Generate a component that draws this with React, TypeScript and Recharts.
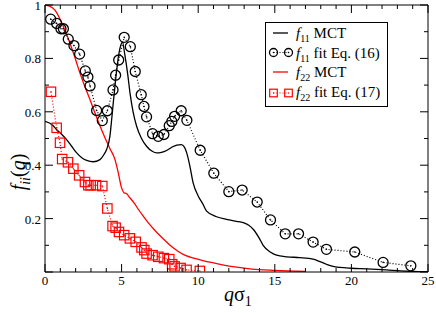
import React from 'react';
import { LineChart, Line, XAxis, YAxis, Legend } from 'recharts';

// f11 from MCT (solid black)
const f11MctQ = [0, 0.5, 0.76, 1.1, 1.41, 1.75, 2.07, 2.4, 2.72, 3.15, 3.59, 3.85, 4.02, 4.24, 4.35, 4.45, 4.6, 4.8, 4.95, 5.05, 5.22, 5.4, 5.55, 5.75, 5.98, 6.3, 6.63, 7.0, 7.29, 7.6, 7.94, 8.3, 8.6, 8.9, 9.1, 9.24, 9.46, 9.67, 10.0, 10.3, 10.55, 11.2, 11.85, 12.5, 12.94, 13.3, 13.59, 14.0, 14.24, 14.7, 15.11, 15.8, 16.63, 17.5, 17.9, 18.37, 18.8, 19.24, 20.0, 21.0, 22.28, 23.2, 24.0, 25.0];
const f11MctF = [0.564, 0.55, 0.533, 0.515, 0.496, 0.47, 0.446, 0.428, 0.418, 0.413, 0.421, 0.44, 0.459, 0.51, 0.57, 0.63, 0.715, 0.81, 0.85, 0.862, 0.81, 0.74, 0.67, 0.6, 0.546, 0.5, 0.471, 0.452, 0.446, 0.448, 0.455, 0.468, 0.475, 0.477, 0.468, 0.448, 0.396, 0.334, 0.285, 0.255, 0.228, 0.207, 0.197, 0.19, 0.185, 0.175, 0.16, 0.125, 0.1, 0.075, 0.063, 0.057, 0.054, 0.048, 0.04, 0.029, 0.021, 0.017, 0.014, 0.012, 0.008, 0.004, 0.002, 0.001];

// f11 fit, Eq. (16) (circles)
const f11FitQ = [0.37, 0.76, 1.04, 1.2, 1.52, 1.89, 2.26, 2.63, 2.8, 2.94, 3.37, 3.74, 4.07, 4.44, 4.61, 4.81, 5.17, 5.57, 5.89, 6.28, 6.46, 6.63, 7.02, 7.39, 7.76, 8.11, 8.28, 8.46, 8.89, 9.26, 10.13, 11.02, 12.0, 12.87, 13.85, 14.72, 15.68, 16.55, 17.5, 18.37, 20.22, 22.07, 23.88];
const f11FitF = [0.947, 0.931, 0.911, 0.911, 0.872, 0.848, 0.816, 0.753, 0.73, 0.697, 0.605, 0.567, 0.604, 0.682, 0.737, 0.794, 0.879, 0.844, 0.751, 0.664, 0.62, 0.581, 0.518, 0.508, 0.515, 0.548, 0.564, 0.583, 0.604, 0.568, 0.456, 0.37, 0.301, 0.307, 0.262, 0.195, 0.143, 0.143, 0.112, 0.085, 0.075, 0.036, 0.023];

// f22 from MCT (solid red)
const f22MctQ = [0, 0.3, 0.65, 1.0, 1.3, 1.63, 2.0, 2.3, 2.6, 2.94, 3.3, 3.6, 3.9, 4.24, 4.57, 4.78, 5.0, 5.15, 5.33, 5.54, 5.8, 6.09, 6.4, 6.8, 7.3, 7.8, 8.2, 8.7, 9.2, 9.7, 10.3, 11.0, 11.5, 12.5, 13.5, 15.0, 17.0];
const f22MctF = [1.0, 0.996, 0.981, 0.945, 0.905, 0.857, 0.795, 0.742, 0.695, 0.645, 0.59, 0.546, 0.505, 0.462, 0.421, 0.372, 0.315, 0.297, 0.293, 0.278, 0.26, 0.235, 0.21, 0.18, 0.148, 0.12, 0.098, 0.077, 0.061, 0.052, 0.043, 0.034, 0.028, 0.018, 0.011, 0.006, 0.002];

// f22 fit, Eq. (17) (squares)
const f22FitQ = [0.39, 0.76, 0.98, 1.12, 1.5, 1.85, 2.23, 2.61, 2.83, 2.98, 3.33, 3.74, 4.07, 4.41, 4.61, 4.83, 5.17, 5.54, 5.92, 6.3, 6.48, 6.63, 7.02, 7.39, 7.76, 8.11, 8.3, 8.46, 8.85, 9.24, 10.11];
const f22FitF = [0.675, 0.54, 0.484, 0.423, 0.411, 0.387, 0.362, 0.337, 0.325, 0.325, 0.325, 0.322, 0.238, 0.172, 0.166, 0.15, 0.138, 0.126, 0.113, 0.092, 0.082, 0.069, 0.063, 0.057, 0.052, 0.048, 0.029, 0.021, 0.015, 0.008, 0.004];

const xTicks = Array.from({ length: 26 }, (_, i) => i);
const yTicks = [0, 0.1, 0.2, 0.3, 0.4, 0.5, 0.6, 0.7, 0.8, 0.9, 1];

const zip = (q: number[], f: number[]) => q.map((v, i) => ({ q: v, f: f[i] }));

const f11Mct = zip(f11MctQ, f11MctF);
const f11Fit = zip(f11FitQ, f11FitF);
const f22Mct = zip(f22MctQ, f22MctF);
const f22Fit = zip(f22FitQ, f22FitF);

const RED = '#ff0000';
const serif = { fontFamily: 'Liberation Serif, Times New Roman, serif' };

const isMajorX = (v: number) => v % 5 === 0;
const isMajorY = (v: number) => Math.round(v * 10) % 2 === 0;

const BottomTick = ({ x, y, payload }: any) => {
  const major = isMajorX(payload.value);
  return (
    <g>
      <line x1={x} y1={y} x2={x} y2={y - (major ? 8 : 4)} stroke="#000" />
      {major && (
        <text x={x} y={y + 13} textAnchor="middle" style={serif} fontSize={13} fill="#000">
          {payload.value}
        </text>
      )}
    </g>
  );
};

const TopTick = ({ x, y, payload }: any) => {
  const major = isMajorX(payload.value);
  return <line x1={x} y1={y} x2={x} y2={y + (major ? 8 : 4)} stroke="#000" />;
};

const LeftTick = ({ x, y, payload }: any) => {
  const major = isMajorY(payload.value);
  const showLabel = major && payload.value > 0;
  return (
    <g>
      <line x1={x} y1={y} x2={x + (major ? 8 : 4)} y2={y} stroke="#000" />
      {showLabel && (
        <text x={x - 4} y={y + 5} textAnchor="end" style={serif} fontSize={13} fill="#000">
          {Number(payload.value.toFixed(1))}
        </text>
      )}
    </g>
  );
};

const RightTick = ({ x, y, payload }: any) => {
  const major = isMajorY(payload.value);
  return <line x1={x} y1={y} x2={x - (major ? 8 : 4)} y2={y} stroke="#000" />;
};

const CircleMark = ({ cx, cy, r = 5 }: any) => (
  <g>
    <circle cx={cx} cy={cy} r={r} fill="none" stroke="#000" strokeWidth={1.3} />
    <circle cx={cx} cy={cy} r={0.8} fill="#000" />
  </g>
);

const SquareMark = ({ cx, cy, h = 4.7 }: any) => (
  <g>
    <rect x={cx - h} y={cy - h} width={2 * h} height={2 * h} fill="none" stroke={RED} strokeWidth={1.2} />
    <circle cx={cx} cy={cy} r={0.7} fill={RED} />
  </g>
);

const LegendBox = () => {
  const label = (y: number, sub: string, rest: string) => (
    <text x={31} y={y} style={serif} fontSize={15} fill="#000">
      <tspan fontStyle="italic">f</tspan>
      <tspan fontSize={10} dy={4}>{sub}</tspan>
      <tspan dy={-4}>{' ' + rest}</tspan>
    </text>
  );
  return (
    <svg width={123} height={85} style={{ display: 'block' }}>
      <rect x={0.5} y={0.5} width={122} height={84} fill="#fff" stroke="#000" />
      <line x1={8} y1={11} x2={23} y2={11} stroke="#000" strokeWidth={1.3} />
      {label(15.5, '11', 'MCT')}
      <line x1={8.5} y1={30.5} x2={23.5} y2={30.5} stroke="#000" strokeDasharray="1 2" />
      <CircleMark cx={8.5} cy={30.5} r={4} />
      <CircleMark cx={23.5} cy={30.5} r={4} />
      {label(35.5, '11', 'fit Eq. (16)')}
      <line x1={8} y1={50} x2={23} y2={50} stroke={RED} strokeWidth={1.3} />
      {label(54.5, '22', 'MCT')}
      <line x1={8.5} y1={71} x2={23.5} y2={71} stroke={RED} strokeDasharray="1 2" />
      <SquareMark cx={8.5} cy={71} h={3.8} />
      <SquareMark cx={23.5} cy={71} h={3.8} />
      {label(75, '22', 'fit Eq. (17)')}
    </svg>
  );
};

export default function App() {
  return (
    <div style={{ position: 'absolute', left: 0, top: 0, width: 436, height: 313, background: '#fff' }}>
      <LineChart width={436} height={313} margin={{ top: 1, right: 0, bottom: 0, left: 0 }}>
        <XAxis
          xAxisId="bottom"
          dataKey="q"
          type="number"
          domain={[0, 25]}
          ticks={xTicks}
          interval={0}
          allowDataOverflow
          height={41}
          tickSize={0}
          tickMargin={0}
          tick={<BottomTick />}
          stroke="#000"
          label={{
            position: 'insideBottom',
            content: () => (
              <text x={224} y={301} style={serif} fontSize={20} fill="#000">
                <tspan fontStyle="italic">q</tspan>
                <tspan>σ</tspan>
                <tspan fontSize={14} dy={5}>1</tspan>
              </text>
            ),
          }}
        />
        <XAxis
          xAxisId="top"
          orientation="top"
          dataKey="q"
          type="number"
          domain={[0, 25]}
          ticks={xTicks}
          interval={0}
          allowDataOverflow
          height={4}
          tickSize={0}
          tickMargin={0}
          tick={<TopTick />}
          stroke="#000"
        />
        <YAxis
          yAxisId="left"
          type="number"
          domain={[0, 1]}
          ticks={yTicks}
          interval={0}
          allowDataOverflow
          width={45}
          tickSize={0}
          tickMargin={0}
          tick={<LeftTick />}
          stroke="#000"
          label={{
            position: 'insideLeft',
            content: () => (
              <text
                x={25}
                y={172}
                transform="rotate(-90, 25, 172)"
                textAnchor="middle"
                style={serif}
                fontSize={20}
                fill="#000"
              >
                <tspan fontStyle="italic">f</tspan>
                <tspan fontStyle="italic" fontSize={14} dy={5}>ii</tspan>
                <tspan dy={-5}>(</tspan>
                <tspan fontStyle="italic">q</tspan>
                <tspan>)</tspan>
              </text>
            ),
          }}
        />
        <YAxis
          yAxisId="right"
          orientation="right"
          type="number"
          domain={[0, 1]}
          ticks={yTicks}
          interval={0}
          allowDataOverflow
          width={8}
          tickSize={0}
          tickMargin={0}
          tick={<RightTick />}
          stroke="#000"
        />
        <Legend
          layout="vertical"
          align="center"
          verticalAlign="middle"
          content={() => <LegendBox />}
          wrapperStyle={{ left: 265, top: 22, width: 123, height: 85 }}
        />
        {/* keeps the top/right frame axes tied to a series */}
        <Line
          xAxisId="top"
          yAxisId="right"
          data={f22Mct}
          dataKey="f"
          stroke="none"
          dot={false}
          activeDot={false}
          legendType="none"
          isAnimationActive={false}
        />
        <Line
          xAxisId="bottom"
          yAxisId="left"
          data={f22Mct}
          dataKey="f"
          type="monotone"
          stroke={RED}
          strokeWidth={1.3}
          dot={false}
          isAnimationActive={false}
        />
        <Line
          xAxisId="bottom"
          yAxisId="left"
          data={f11Mct}
          dataKey="f"
          type="monotone"
          stroke="#000"
          strokeWidth={1.3}
          dot={false}
          isAnimationActive={false}
        />
        <Line
          xAxisId="bottom"
          yAxisId="left"
          data={f22Fit}
          dataKey="f"
          type="linear"
          stroke={RED}
          strokeWidth={1.2}
          strokeDasharray="1 2"
          dot={(p: any) => <SquareMark key={`s-${p.index}`} cx={p.cx} cy={p.cy} />}
          isAnimationActive={false}
        />
        <Line
          xAxisId="bottom"
          yAxisId="left"
          data={f11Fit}
          dataKey="f"
          type="linear"
          stroke="#000"
          strokeWidth={1.2}
          strokeDasharray="1 2"
          dot={(p: any) => <CircleMark key={`c-${p.index}`} cx={p.cx} cy={p.cy} />}
          isAnimationActive={false}
        />
      </LineChart>
    </div>
  );
}
